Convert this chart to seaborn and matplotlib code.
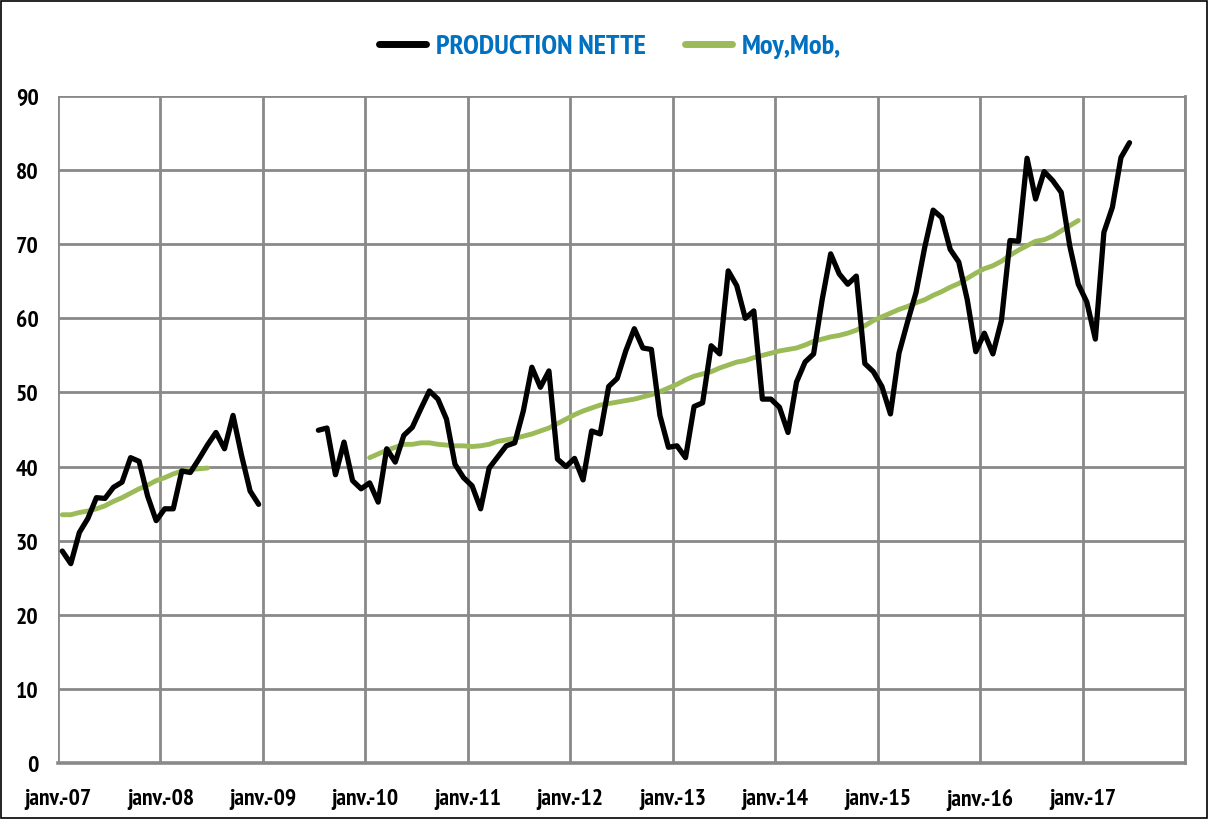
import numpy as np
import pandas as pd
import matplotlib
matplotlib.use("Agg")
import matplotlib.pyplot as plt
from matplotlib import font_manager as fm
from matplotlib.patches import Rectangle
from matplotlib.lines import Line2D
import seaborn as sns

# ---- data (monthly, index 0 = janv. 2007) ----
x_labels = ["janv.-07", "janv.-08", "janv.-09", "janv.-10", "janv.-11", "janv.-12",
            "janv.-13", "janv.-14", "janv.-15", "janv.-16", "janv.-17", ""]
y_ticks = [0, 10, 20, 30, 40, 50, 60, 70, 80, 90]

prod_2007_2008 = [28.6, 26.9, 31.1, 33.0, 35.8, 35.7, 37.2, 37.9, 41.2, 40.7, 36.0, 32.7,
                  34.3, 34.3, 39.4, 39.2, 41.0, 42.9, 44.6, 42.4, 46.9, 41.5, 36.7, 34.9]
prod_2009_2017 = [44.9, 45.2, 38.9, 43.3, 38.1, 37.0,
                  37.8, 35.2, 42.4, 40.6, 44.2, 45.3, 47.8, 50.2, 49.1, 46.4, 40.3, 38.5,
                  37.4, 34.3, 39.8, 41.3, 42.8, 43.2, 47.5, 53.4, 50.7, 52.9, 41.0, 40.0,
                  41.1, 38.2, 44.8, 44.4, 50.8, 51.9, 55.6, 58.6, 56.0, 55.8, 46.9, 42.6,
                  42.8, 41.2, 48.1, 48.6, 56.3, 55.2, 66.4, 64.4, 60.0, 61.0, 49.1, 49.1,
                  48.0, 44.6, 51.4, 54.1, 55.2, 62.5, 68.7, 66.0, 64.6, 65.7, 53.9, 52.8,
                  50.8, 47.1, 55.3, 59.5, 63.5, 69.5, 74.6, 73.6, 69.3, 67.6, 62.5, 55.5,
                  58.0, 55.2, 59.7, 70.5, 70.4, 81.6, 76.1, 79.8, 78.6, 77.0, 69.8, 64.6,
                  62.2, 57.2, 71.6, 75.0, 81.7, 83.7]
prod_start2 = 30

moy_2007_2008 = [33.5, 33.5, 33.8, 34.0, 34.3, 34.7, 35.3, 35.8, 36.4, 37.0, 37.5, 38.1,
                 38.5, 39.0, 39.4, 39.6, 39.7, 39.8]
moy_2010_2016 = [41.2, 41.7, 42.2, 42.6, 43.0, 43.0, 43.2, 43.2, 43.0, 42.9, 42.8, 42.8,
                 42.7, 42.8, 43.0, 43.4, 43.6, 43.8, 44.1, 44.4, 44.8, 45.2, 45.8, 46.4,
                 47.0, 47.5, 47.9, 48.3, 48.5, 48.7, 48.9, 49.1, 49.4, 49.7, 50.1, 50.6,
                 51.1, 51.7, 52.2, 52.5, 52.8, 53.3, 53.7, 54.1, 54.3, 54.7, 55.0, 55.3,
                 55.6, 55.8, 56.0, 56.4, 56.9, 57.2, 57.5, 57.7, 58.0, 58.4, 59.0, 59.7,
                 60.2, 60.7, 61.2, 61.6, 62.1, 62.5, 63.1, 63.6, 64.2, 64.7, 65.4, 66.1,
                 66.7, 67.1, 67.7, 68.5, 69.2, 69.8, 70.4, 70.6, 71.1, 71.8, 72.5, 73.2]
moy_start2 = 36


def seg_frame(values, start, seg):
    m = np.arange(start, start + len(values))
    return pd.DataFrame({"mois": m + 0.5, "val": values, "seg": seg})


prod = pd.concat([seg_frame(prod_2007_2008, 0, 0), seg_frame(prod_2009_2017, prod_start2, 1)])
moy = pd.concat([seg_frame(moy_2007_2008, 0, 0), seg_frame(moy_2010_2016, moy_start2, 1)])

# ---- style ----
sns.set_theme(style="white")
plt.rcParams["font.family"] = ["DejaVu Sans"]

# look for a condensed / narrow bold face file
cond_path = None
cands = []
for f in fm.fontManager.ttflist:
    base = f.fname.split("/")[-1]
    if ("Condensed" in base or "Narrow" in base) and "Bold" in base and "Oblique" not in base \
            and "Italic" not in base:
        cands.append(f.fname)
cands.sort(key=lambda p: (0 if "Narrow" in p else 1, p))
if cands:
    cond_path = cands[0]


def fp(size):
    if cond_path:
        return fm.FontProperties(fname=cond_path, size=size)
    return fm.FontProperties(family="DejaVu Sans", weight="bold", stretch="condensed", size=size * 0.85)


fig = plt.figure(figsize=(12.09, 8.20), dpi=100)
ax = fig.add_axes([58 / 1209, 1 - 764 / 820, (1185 - 58) / 1209, (764 - 97) / 820])

grid_c = "#898989"
green = "#9BBB59"

sns.lineplot(data=moy, x="mois", y="val", units="seg", estimator=None, color=green,
             linewidth=3.5, ax=ax, solid_capstyle="round", solid_joinstyle="round", zorder=3)
sns.lineplot(data=prod, x="mois", y="val", units="seg", estimator=None, color="black",
             linewidth=3.8, ax=ax, solid_capstyle="round", solid_joinstyle="round", zorder=4)

ax.set_xlim(0, 132)
ax.set_ylim(0, 90)
ax.set_xticks(np.arange(0, 133, 12))
ax.set_xticklabels(x_labels)
ax.set_yticks(y_ticks)
ax.set_xlabel("")
ax.set_ylabel("")

ax.grid(True, color=grid_c, linewidth=2.0)
ax.set_axisbelow(True)
for side in ["top", "left"]:
    ax.spines[side].set_visible(False)
ax.spines["right"].set_color(grid_c)
ax.spines["right"].set_linewidth(2.0)
ax.spines["bottom"].set_color(grid_c)
ax.spines["bottom"].set_linewidth(2.6)

ax.tick_params(axis="both", direction="out", length=6, width=1.5, color=grid_c,
               labelcolor="black")
ax.tick_params(axis="x", pad=12)
ax.tick_params(axis="y", pad=8)
for lab in ax.get_xticklabels() + ax.get_yticklabels():
    lab.set_fontproperties(fp(17))

# legend
handles = [Line2D([0], [0], color="black", linewidth=5),
           Line2D([0], [0], color=green, linewidth=5)]
leg = fig.legend(handles, ["PRODUCTION NETTE", "Moy,Mob,"], loc="center",
                 bbox_to_anchor=(610 / 1209, 1 - 47 / 820), ncol=2, frameon=False,
                 handlelength=1.65, handletextpad=0.35, columnspacing=1.35,
                 prop=fp(20.5))
for t in leg.get_texts():
    t.set_color("#0070C0")

# outer border
fig.patches.append(Rectangle((0.001, 0.001), 0.997, 0.997, transform=fig.transFigure,
                             fill=False, edgecolor="black", linewidth=1.2))

fig.savefig("out.png", dpi=100, facecolor="white")
